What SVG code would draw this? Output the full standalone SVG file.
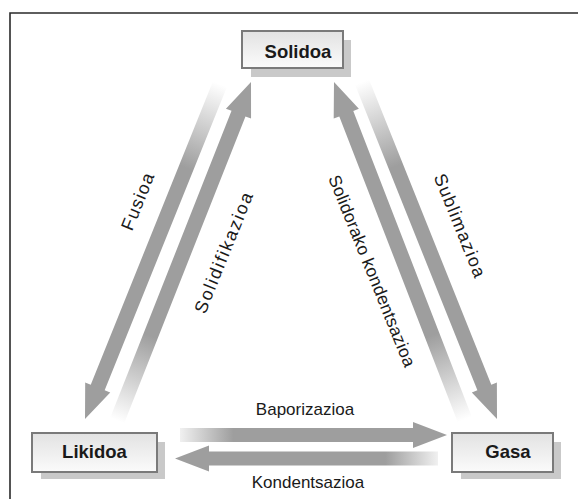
<svg xmlns="http://www.w3.org/2000/svg" width="578" height="499" viewBox="0 0 578 499">
<style>
.frame{fill:none;stroke:#2a2a2a;stroke-width:1.6}
.shadow{fill:#c9c9c9}
.box{fill:url(#boxg);stroke:#7a7a7a;stroke-width:2}
.node{font-family:"Liberation Sans",Arial,sans-serif;font-weight:bold;font-size:18.5px;fill:#1a1a1a;text-anchor:middle}
.lbl{font-family:"Liberation Sans",Arial,sans-serif;font-size:17px;fill:#1a1a1a;text-anchor:middle}
.rl{font-size:18px;letter-spacing:1.2px}
.arrow{fill:url(#fade)}
.arrowS{fill:url(#fadeS)}
</style>
<defs>
<linearGradient id="boxg" x1="0" y1="0" x2="0" y2="1">
<stop offset="0" stop-color="#e2e2e2"/>
<stop offset="1" stop-color="#fbfbfb"/>
</linearGradient>
<linearGradient id="fade" x1="0" y1="0" x2="1" y2="0">
<stop offset="0" stop-color="#9e9e9e" stop-opacity="0"/>
<stop offset="0.25" stop-color="#9e9e9e" stop-opacity="1"/>
<stop offset="1" stop-color="#9e9e9e" stop-opacity="1"/>
</linearGradient>
<linearGradient id="fadeS" x1="0" y1="0" x2="1" y2="0">
<stop offset="0" stop-color="#9e9e9e" stop-opacity="0.15"/>
<stop offset="0.2" stop-color="#9e9e9e" stop-opacity="1"/>
<stop offset="1" stop-color="#9e9e9e" stop-opacity="1"/>
</linearGradient>
</defs>
<path class="frame" d="M10,499 V13 H578"/>
<g id="connectors">
<polygon class="arrowS" transform="translate(447,435)" points="-267,-7 -34,-7 -34,-13 0,0 -34,13 -34,7 -267,7"/>
<polygon class="arrowS" transform="translate(175,458.5) rotate(180)" points="-263,-7 -34,-7 -34,-13 0,0 -34,13 -34,7 -263,7"/>
<polygon class="arrow" transform="translate(85,419) rotate(111.95)" points="-361,-7.5 -34,-7.5 -34,-13.5 0,0 -34,13.5 -34,7.5 -361,7.5"/>
<polygon class="arrow" transform="translate(251,82) rotate(-68.43)" points="-364,-7.5 -34,-7.5 -34,-13.5 0,0 -34,13.5 -34,7.5 -364,7.5"/>
<polygon class="arrow" transform="translate(334,82) rotate(-111.18)" points="-362,-7.5 -34,-7.5 -34,-13.5 0,0 -34,13.5 -34,7.5 -362,7.5"/>
<polygon class="arrow" transform="translate(497,419) rotate(68.17)" points="-363,-7.5 -34,-7.5 -34,-13.5 0,0 -34,13.5 -34,7.5 -363,7.5"/>
<text class="lbl" x="305" y="415">Baporizazioa</text>
<text class="lbl" x="308" y="488">Kondentsazioa</text>
<text class="lbl rl" transform="translate(138,201) rotate(-68)" y="6">Fusioa</text>
<text class="lbl rl" transform="translate(224,252) rotate(-68)" y="6" style="letter-spacing:1.8px">Solidifikazioa</text>
<text class="lbl rl" transform="translate(372,271) rotate(68)" y="6" style="font-size:17.5px;letter-spacing:0.2px">Solidorako kondentsazioa</text>
<text class="lbl rl" transform="translate(460,226) rotate(68)" y="6">Sublimazioa</text>
</g>
<g id="solidoa">
<rect class="shadow" x="251" y="40" width="100" height="37"/>
<rect class="box" x="242" y="31" width="101" height="37"/>
<text class="node" x="298" y="58">Solidoa</text>
</g>
<g id="likidoa">
<rect class="shadow" x="41" y="442" width="124" height="37"/>
<rect class="box" x="32" y="433" width="125" height="39"/>
<text class="node" x="94.5" y="458">Likidoa</text>
</g>
<g id="gasa">
<rect class="shadow" x="461" y="442" width="100" height="37"/>
<rect class="box" x="452" y="433" width="101" height="39"/>
<text class="node" x="508" y="458">Gasa</text>
</g>
</svg>
